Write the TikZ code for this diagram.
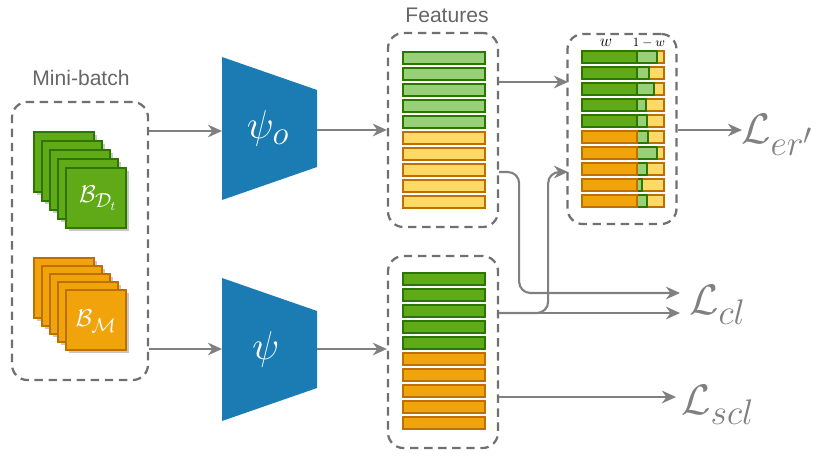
\documentclass[tikz,border=0pt]{standalone}
\usepackage{fontspec}
\setsansfont{Liberation Sans}
\usepackage{tikz}
\usetikzlibrary{arrows.meta,positioning,calc}
\definecolor{GreenDark}{HTML}{60A917}
\definecolor{GreenLine}{HTML}{2D7600}
\definecolor{GreenLight}{HTML}{97D077}
\definecolor{OrangeDark}{HTML}{F0A30A}
\definecolor{OrangeLine}{HTML}{BD7000}
\definecolor{YellowLight}{HTML}{FFD966}
\definecolor{NetBlue}{HTML}{1B7CB3}
\definecolor{ArrowGray}{HTML}{808080}
\definecolor{BoxGray}{HTML}{707070}
\definecolor{LabelGray}{HTML}{666666}
\newcommand{\lossmath}[1]{\scalebox{1.22}{$#1$}}
\newcommand{\netmath}[1]{\scalebox{1.15}{$#1$}}
\tikzset{
  dashbox/.style={draw=BoxGray,line width=1.6pt,dash pattern=on 6pt off 4pt,
    rounded corners=11pt,inner sep=0pt},
  flow/.style={draw=ArrowGray,line width=1.5pt,-{Stealth[length=10pt,width=9pt]}},
  tag/.style={font=\sffamily\fontsize{15}{17}\selectfont,text=LabelGray},
  loss/.style={font=\fontsize{24.88}{30}\selectfont,text=ArrowGray,inner sep=0pt,anchor=base west},
  netlabel/.style={font=\fontsize{24.88}{30}\selectfont,text=white},
  batchlabel/.style={font=\fontsize{19}{22}\selectfont,text=white}}

\begin{document}
\begin{tikzpicture}[x=0.025cm,y=-0.025cm]
      \useasboundingbox (0,0) rectangle (821,461);
      % mini-batch
      \node[tag] (batchtag) at (81,78) {Mini-batch};
      \node[dashbox,minimum width=3.4cm,minimum height=6.95cm] (batch) at (80,241) {};
      \foreach \i in {0,...,4}{
        \fill[black!22] (37+8*\i,135+9*\i) rectangle ++(60,60);
        \filldraw[fill=GreenDark,draw=GreenLine,line width=0.8pt]
          (34+8*\i,132+9*\i) rectangle ++(60,60);
        \fill[black!22] (37+8*\i,261+8*\i) rectangle ++(60,60);
        \filldraw[fill=OrangeDark,draw=OrangeLine,line width=0.8pt]
          (34+8*\i,258+8*\i) rectangle ++(60,60);
      }
      \node[batchlabel] (Bd) at (98,198) {$\mathcal{B}_{\mathcal{D}_t}$};
      \node[batchlabel] (Bm) at (96,321) {$\mathcal{B}_{\mathcal{M}}$};
      % encoders
      \fill[NetBlue] (222,57)--(317,90)--(317,167)--(222,200)--cycle;
      \fill[NetBlue] (222,278)--(317,311)--(317,388)--(222,421)--cycle;
      \node[netlabel] (psiO) at (268,128) {\netmath{\psi_o}};
      \node[netlabel] (psiN) at (266,349) {\netmath{\psi}};
      \coordinate (psiO-in) at (222,131);
      \coordinate (psiO-out) at (317,130);
      \coordinate (psiN-in) at (222,349);
      \coordinate (psiN-out) at (317,349);
      % features
      \node[tag] (feattag) at (447,15) {Features};
      \node[dashbox,minimum width=2.75cm,minimum height=4.85cm] (featO) at (443,130) {};
      \node[dashbox,minimum width=2.75cm,minimum height=4.8cm] (featN) at (443,352) {};
      \foreach \i in {0,...,9}{
        \ifnum\i<5
          \filldraw[fill=GreenLight,draw=GreenLine,line width=0.8pt]
            (403,52+16*\i) rectangle (485,64+16*\i);
          \filldraw[fill=GreenDark,draw=GreenLine,line width=0.8pt]
            (403,273+16*\i) rectangle (485,285+16*\i);
        \else
          \filldraw[fill=YellowLight,draw=OrangeLine,line width=0.8pt]
            (403,52+16*\i) rectangle (485,64+16*\i);
          \filldraw[fill=OrangeDark,draw=OrangeLine,line width=0.8pt]
            (403,273+16*\i) rectangle (485,285+16*\i);
        \fi
      }
      % weighted features
      \node[dashbox,minimum width=2.725cm,minimum height=4.75cm] (wbox) at (622,129) {};
      \node[font=\fontsize{12}{14}\selectfont] (wtag) at (606,43) {$w$};
      \node[font=\fontsize{9}{11}\selectfont] (omwtag) at (649,43) {$1-w$};
      \foreach \g [count=\i from 0] in {657,649,654,646,647,648,657,647,642,647}{
        \filldraw[fill=YellowLight,draw=OrangeLine,line width=0.8pt]
          (637,51+16*\i) rectangle (664,63+16*\i);
        \filldraw[fill=GreenLight,draw=GreenLine,line width=0.8pt]
          (637,51+16*\i) rectangle (\g,63+16*\i);
        \ifnum\i<5
          \filldraw[fill=GreenDark,draw=GreenLine,line width=0.8pt]
            (582,51+16*\i) rectangle (637,63+16*\i);
        \else
          \filldraw[fill=OrangeDark,draw=OrangeLine,line width=0.8pt]
            (582,51+16*\i) rectangle (637,63+16*\i);
        \fi
      }
      % connectors
      \coordinate (wIn) at (568,82);
      \coordinate (wIn2) at (568,172);
      \coordinate (clTop) at (680,293);
      \coordinate (clBot) at (680,313);
      \coordinate (sclEnd) at (676,397);
      \coordinate (erEnd) at (742,130);
      \draw[flow] (batch.east |- psiO-in) -- (psiO-in);
      \draw[flow] (batch.east |- psiN-in) -- (psiN-in);
      \draw[flow] (psiO-out) -- (featO.west |- psiO-out);
      \draw[flow] (psiN-out) -- (featN.west |- psiN-out);
      \draw[flow] (featO.east |- wIn) -- (wIn);
      \draw[flow,rounded corners=8pt] (featO.east |- wIn2) -- ++(20,0) |- (clTop);
      \draw[flow] (featN.east |- clBot) -- (clBot);
      \draw[flow,rounded corners=8pt] (featN.east |- clBot) -- ++(49,0) |- (wIn2);
      \draw[flow] (featN.east |- sclEnd) -- (sclEnd);
      \draw[flow] (wbox.east |- erEnd) -- (erEnd);
      % losses
      \node[loss] (Ler) at (741,143) {\lossmath{\mathcal{L}_{er'}}};
      \node[loss] (Lcl) at (689,314) {\lossmath{\mathcal{L}_{cl}}};
      \node[loss] (Lscl) at (681,414) {\lossmath{\mathcal{L}_{scl}}};
    \end{tikzpicture}
\end{document}
